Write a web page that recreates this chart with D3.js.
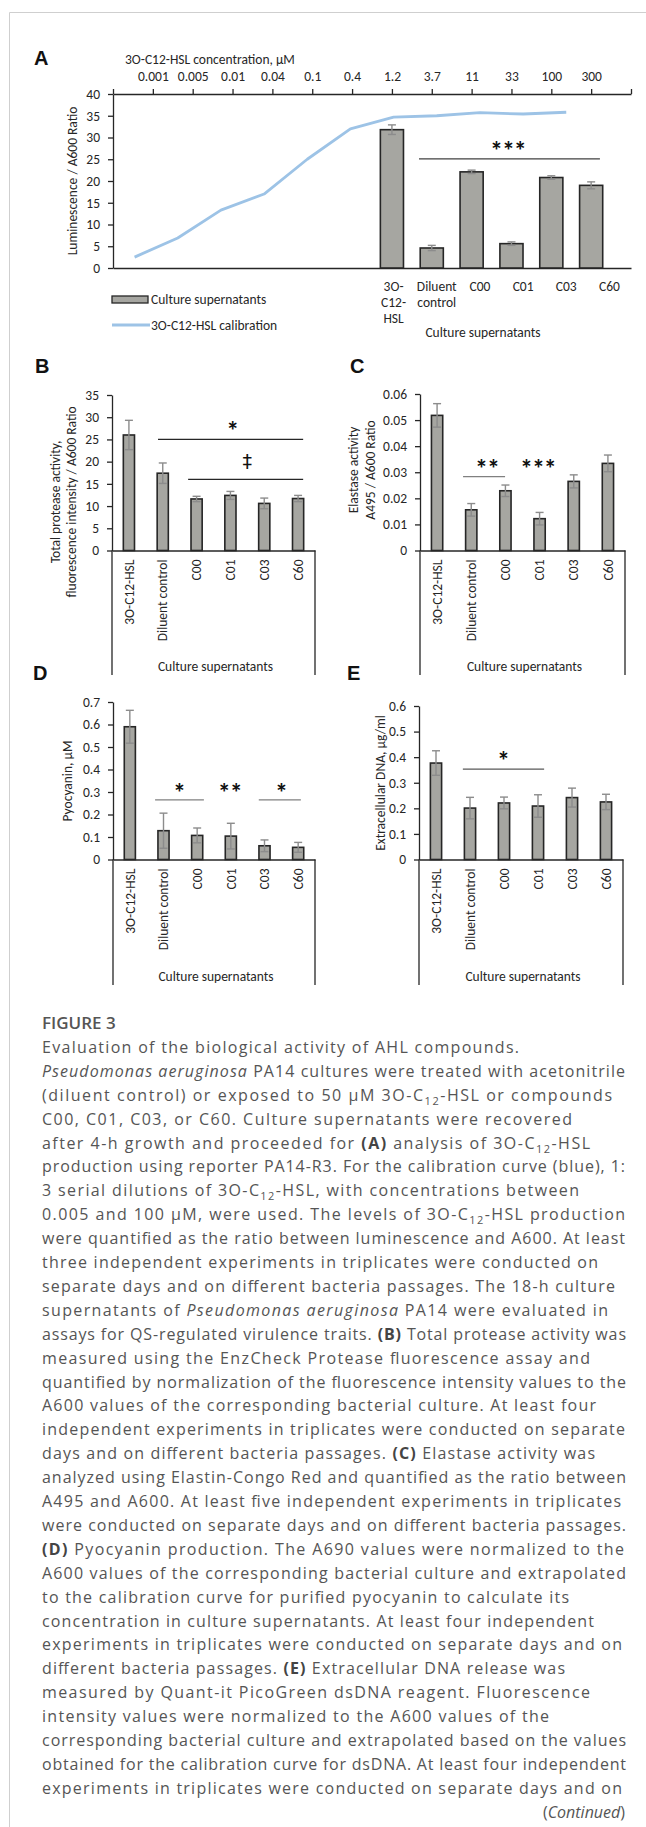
<!DOCTYPE html>
<html><head><meta charset="utf-8">
<script src="https://cdn.jsdelivr.net/npm/d3@7"></script>
<style>body{margin:0;background:#fff} svg{display:block}</style>
</head><body>
<svg id="c" width="646" height="1827"></svg>
<script>
// ---------- DATA ----------
const calibConc = ["0.001","0.005","0.01","0.04","0.1","0.4","1.2","3.7","11","33","100","300"];
const calibValues = [2.5, 6.9, 13.3, 17.0, 25.0, 32.0, 34.7, 35.0, 35.7, 35.4, 35.8];
const groups = ["3O-C12-HSL","Diluent control","C00","C01","C03","C60"];
const lumValues = [31.8, 4.6, 22.1, 5.6, 20.8, 19.0];
const lumErr = [1.1, 0.6, 0.4, 0.4, 0.4, 0.8];
const proteaseValues = [26.0, 17.4, 11.6, 12.4, 10.6, 11.7];
const proteaseErr = [3.3, 2.3, 0.6, 0.9, 1.2, 0.7];
const elastaseValues = [0.0518, 0.0156, 0.0229, 0.0122, 0.0265, 0.0334];
const elastaseErr = [0.0045, 0.0024, 0.0022, 0.0024, 0.0025, 0.0032];
const pyoValues = [0.59, 0.128, 0.107, 0.104, 0.061, 0.054];
const pyoErr = [0.073, 0.078, 0.033, 0.057, 0.026, 0.022];
const dnaValues = [0.377, 0.201, 0.221, 0.209, 0.242, 0.225];
const dnaErr = [0.048, 0.042, 0.023, 0.044, 0.037, 0.030];
const ticksA = [0, 40, 5], ticksB = [0, 35, 5], ticksC = [0, 0.06, 0.01], ticksD = [0, 0.7, 0.1], ticksE = [0, 0.6, 0.1];
// significance annotations: positions in category index / value units
const sigA = [{from:0.68, to:5.22, y:25.1, label:"***", lx:2.91, ly:28.3, color:"#404040"}];
const sigB = [{from:0.86, to:5.15, y:25, label:"*", lx:3.05, ly:28.2, color:"#262626"},
              {from:1.75, to:5.15, y:16, label:"\u2021", lx:3.5, ly:19.9, color:"#262626"}];
const sigC = [{from:0.76, to:1.99, y:0.0283, label:"**", lx:1.46, ly:0.0336, color:"#808080"},
              {label:"***", lx:2.95, ly:0.0336}];
const sigD = [{from:0.75, to:2.2, y:0.265, label:"*", lx:1.46, ly:0.323, color:"#808080"},
              {label:"**", lx:2.97, ly:0.323},
              {from:3.83, to:5.08, y:0.265, label:"*", lx:4.49, ly:0.323, color:"#808080"}];
const sigE = [{from:0.79, to:3.18, y:0.353, label:"*", lx:1.97, ly:0.408, color:"#595959"}];

// ---------- STYLE ----------
const FONT = "Carlito, Calibri, Lato, 'Open Sans', sans-serif";
const AX = "#262626";
const BAR = "#a6a6a1";
const ERR = "#8c8c8c";
const BLUE = "#9dc3e6";
const svg = d3.select("#c");

svg.append("path").attr("d","M646,12.5H9.5V1827").attr("fill","none").attr("stroke","#cfcfcf").attr("stroke-width",1);

function styleAxis(g){
  g.select(".domain").attr("stroke",AX).attr("stroke-width",1.3);
  g.selectAll(".tick line").attr("stroke",AX).attr("stroke-width",1.3);
  g.selectAll(".tick text").attr("fill",AX).attr("font-family",FONT).attr("font-size",13.5);
}
function panelLabel(t,x,y){
  svg.append("text").attr("x",x).attr("y",y).text(t)
    .attr("font-family","'Liberation Sans', Arial, sans-serif").attr("font-weight","bold").attr("font-size",20).attr("fill","#111");
}
const fmt = v => String(+v.toFixed(3));
function tickList(t){ return d3.range(0, Math.round((t[1]-t[0])/t[2])+1).map(k => +(t[0]+k*t[2]).toFixed(4)); }
function sigMarks(g, list, xPos, y, fs, defColor){
  list.forEach(s => {
    if (s.from !== undefined) g.append("line").attr("x1",xPos(s.from)).attr("x2",xPos(s.to))
      .attr("y1",y(s.y)).attr("y2",y(s.y)).attr("stroke",s.color||defColor).attr("stroke-width",1.3);
    const dag = s.label === "\u2021";
    g.append("text").attr("x",xPos(s.lx)).attr("y",y(s.ly) + (dag ? 6 : 0.57*fs)).attr("text-anchor","middle")
      .attr("font-family", dag ? "'DejaVu Sans', sans-serif" : FONT).attr("font-weight", dag ? "normal" : "bold")
      .attr("letter-spacing", dag ? 0 : -1)
      .attr("font-size", dag ? 19 : fs).attr("fill","#111").text(s.label);
  });
}
function errBars(g, xs, y, vals, errs, cap){
  vals.forEach((v,i)=>{
    const x = xs(i);
    g.append("line").attr("x1",x).attr("x2",x).attr("y1",y(v-errs[i])).attr("y2",y(v+errs[i])).attr("stroke",ERR).attr("stroke-width",1.4);
    [v-errs[i], v+errs[i]].forEach(e => g.append("line").attr("x1",x-cap).attr("x2",x+cap).attr("y1",y(e)).attr("y2",y(e)).attr("stroke",ERR).attr("stroke-width",1.4));
  });
}

// ---------- PANEL A ----------
(function(){
  const L=113, R=631, T=94, B=268;
  const y = d3.scaleLinear().domain([ticksA[0], ticksA[1]]).range([B,T]);
  const xTick = d3.scalePoint().domain(d3.range(calibConc.length+2)).range([L,R]);
  const xBand = d3.scaleBand().domain(d3.range(calibConc.length)).range([L,R]);
  const bw = xBand.bandwidth();
  const g = svg.append("g");
  panelLabel("A", 34, 65);
  g.append("text").attr("x",125).attr("y",64).attr("font-family",FONT).attr("font-size",13.5).attr("fill",AX)
    .text("3O-C12-HSL concentration,  \u03bcM");
  g.append("g").attr("transform",`translate(0,${T})`)
    .call(d3.axisTop(xTick).tickSize(5).tickSizeOuter(0).tickPadding(8).tickFormat(i => calibConc[i-1] || ""))
    .call(styleAxis);
  g.append("g").attr("transform",`translate(${L},0)`)
    .call(d3.axisLeft(y).tickValues(tickList(ticksA)).tickFormat(fmt).tickSize(5).tickSizeOuter(0).tickPadding(8))
    .call(styleAxis);
  g.append("g").attr("transform",`translate(0,${B})`)
    .call(d3.axisBottom(xTick).tickSize(0).tickSizeOuter(0).tickFormat(""))
    .call(styleAxis);
  g.append("text").attr("transform",`translate(72,${(T+B)/2}) rotate(-90)`).attr("text-anchor","middle").attr("dy","0.35em")
    .attr("font-family",FONT).attr("font-size",13.5).attr("fill",AX).text("Luminescence / A600 Ratio");
  // bars aligned with tick of first sample concentration
  const off = calibConc.indexOf("1.2") + 1;
  const barW = xTick.step()*0.58;
  const bx = v => L + xTick.step()*(off + v);
  g.selectAll("rect.bar").data(lumValues).join("rect").attr("class","bar")
    .attr("x",(d,i)=>bx(i)-barW/2).attr("width",barW)
    .attr("y",d=>y(d)).attr("height",d=>y(0)-y(d))
    .attr("fill",BAR).attr("stroke",AX).attr("stroke-width",1.6);
  errBars(g, bx, y, lumValues, lumErr, 4);
  // calibration line
  g.append("path").datum(calibValues)
    .attr("d", d3.line().x((d,i)=>xBand(i)+bw/2).y(d=>y(d)))
    .attr("fill","none").attr("stroke",BLUE).attr("stroke-width",2.8).attr("stroke-linejoin","round");
  sigMarks(g, sigA, bx, y, 26, "#404040");
  // category labels (on the band slots of the last six concentrations)
  const labOff = calibConc.length - groups.length;
  groups.forEach((name,i)=>{
    const lines = name.replace(/-/g,"-\n").split(/[\n ]/);
    const t = g.append("text").attr("text-anchor","middle").attr("font-family",FONT).attr("font-size",13.5).attr("fill",AX);
    lines.forEach((ln,k)=> t.append("tspan").attr("x",xBand(labOff+i)+bw/2).attr("y",291+k*16).text(ln));
  });
  g.append("text").attr("x",483).attr("y",337).attr("text-anchor","middle").attr("font-family",FONT).attr("font-size",13.5).attr("fill",AX).text("Culture supernatants");
  // legend
  g.append("rect").attr("x",112).attr("y",296).attr("width",36).attr("height",7).attr("fill",BAR).attr("stroke",AX).attr("stroke-width",1.3);
  g.append("text").attr("x",151).attr("y",303.5).attr("font-family",FONT).attr("font-size",13.5).attr("fill",AX).text("Culture supernatants");
  g.append("line").attr("x1",112).attr("x2",150).attr("y1",325).attr("y2",325).attr("stroke",BLUE).attr("stroke-width",2.8);
  g.append("text").attr("x",151).attr("y",329.5).attr("font-family",FONT).attr("font-size",13.5).attr("fill",AX).text("3O-C12-HSL calibration");
})();

// ---------- PANELS B-E ----------
function barPanel(c){
  const x = d3.scaleBand().domain(groups).range([c.L,c.R]);
  const y = d3.scaleLinear().domain([c.ticks[0], c.ticks[1]]).range([c.B,c.T]);
  const g = svg.append("g");
  panelLabel(c.label, c.lx, c.ly);
  g.append("g").attr("transform",`translate(${c.L},0)`)
    .call(d3.axisLeft(y).tickValues(tickList(c.ticks)).tickFormat(fmt).tickSize(5).tickSizeOuter(0).tickPadding(8))
    .call(styleAxis);
  const xa = g.append("g").attr("transform",`translate(0,${c.B})`)
    .call(d3.axisBottom(x).tickSize(0).tickSizeOuter(0))
    .call(styleAxis);
  xa.selectAll(".tick text").attr("y",0).attr("x",-9).attr("dy","0.35em")
    .attr("transform","rotate(-90)").style("text-anchor","end").attr("font-size",13.5);
  [c.L, c.R].forEach(xx => g.append("line").attr("x1",xx).attr("x2",xx).attr("y1",c.B).attr("y2",c.boxB).attr("stroke",AX).attr("stroke-width",1.3));
  g.append("text").attr("x",(c.L+c.R)/2+2).attr("y",c.boxB-4).attr("text-anchor","middle")
    .attr("font-family",FONT).attr("font-size",13.5).attr("fill",AX).text("Culture supernatants");
  c.title.forEach((t,k)=> g.append("text").attr("transform",`translate(${c.tx[k]},${c.ty}) rotate(-90)`)
    .attr("text-anchor","middle").attr("dy","0.35em").attr("font-family",FONT).attr("font-size",13.5).attr("fill",AX).text(t));
  const barW = x.step()*0.33;
  const cx = i => x(groups[i]) + x.bandwidth()/2;
  g.selectAll("rect.bar").data(c.values).join("rect").attr("class","bar")
    .attr("x",(d,i)=>cx(i)-barW/2).attr("width",barW)
    .attr("y",d=>y(d)).attr("height",d=>y(0)-y(d))
    .attr("fill",BAR).attr("stroke",AX).attr("stroke-width",1.6);
  errBars(g, cx, y, c.values, c.errs, 4);
  sigMarks(g, c.sig, v => c.L + x.step()*(v+0.5), y, 26, "#808080");
}
barPanel({label:"B", lx:35, ly:373, L:112, R:315, T:395, B:550.5, boxB:675, ticks:ticksB, values:proteaseValues, errs:proteaseErr,
  title:["Total protease activity,","fluorescence intensity / A600 Ratio"], tx:[55,71], ty:502, sig:sigB});
barPanel({label:"C", lx:350, ly:373, L:420, R:625, T:394, B:550.5, boxB:675, ticks:ticksC, values:elastaseValues, errs:elastaseErr,
  title:["Elastase activity","A495 / A600 Ratio"], tx:[353,370], ty:470, sig:sigC});
barPanel({label:"D", lx:33, ly:680, L:113, R:315, T:702, B:859.5, boxB:985, ticks:ticksD, values:pyoValues, errs:pyoErr,
  title:["Pyocyanin, \u03bcM"], tx:[67], ty:781, sig:sigD});
barPanel({label:"E", lx:347, ly:680, L:419, R:623, T:706, B:859.5, boxB:985, ticks:ticksE, values:dnaValues, errs:dnaErr,
  title:["Extracellular DNA, \u03bcg/ml"], tx:[380], ty:783, sig:sigE});

// ---------- CAPTION ----------
const captionLines = [
 ["Evaluation of the biological activity of AHL compounds.",519],
 ["*Pseudomonas aeruginosa* PA14 cultures were treated with acetonitrile",625],
 ["(diluent control) or exposed to 50 \u03bcM 3O-C_12_-HSL or compounds",612],
 ["C00, C01, C03, or C60. Culture supernatants were recovered",572],
 ["after 4-h growth and proceeded for **(A)** analysis of 3O-C_12_-HSL",590],
 ["production using reporter PA14-R3. For the calibration curve (blue), 1:",625],
 ["3 serial dilutions of 3O-C_12_-HSL, with concentrations between",579],
 ["0.005 and 100 \u03bcM, were used. The levels of 3O-C_12_-HSL production",625],
 ["were quantified as the ratio between luminescence and A600. At least",625],
 ["three independent experiments in triplicates were conducted on",598],
 ["separate days and on different bacteria passages. The 18-h culture",615],
 ["supernatants of *Pseudomonas aeruginosa* PA14 were evaluated in",608],
 ["assays for QS-regulated virulence traits. **(B)** Total protease activity was",626],
 ["measured using the EnzCheck Protease fluorescence assay and",590],
 ["quantified by normalization of the fluorescence intensity values to the",626],
 ["A600 values of the corresponding bacterial culture. At least four",596],
 ["independent experiments in triplicates were conducted on separate",625],
 ["days and on different bacteria passages. **(C)** Elastase activity was",595],
 ["analyzed using Elastin-Congo Red and quantified as the ratio between",626],
 ["A495 and A600. At least five independent experiments in triplicates",621],
 ["were conducted on separate days and on different bacteria passages.",626],
 ["**(D)** Pyocyanin production. The A690 values were normalized to the",624],
 ["A600 values of the corresponding bacterial culture and extrapolated",626],
 ["to the calibration curve for purified pyocyanin to calculate its",569],
 ["concentration in culture supernatants. At least four independent",594],
 ["experiments in triplicates were conducted on separate days and on",622],
 ["different bacteria passages. **(E)** Extracellular DNA release was",565],
 ["measured by Quant-it PicoGreen dsDNA reagent. Fluorescence",590],
 ["intensity values were normalized to the A600 values of the",549],
 ["corresponding bacterial culture and extrapolated based on the values",626],
 ["obtained for the calibration curve for dsDNA. At least four independent",626],
 ["experiments in triplicates were conducted on separate days and on",622]
];
const CX = 42, CY0 = 1023, LH = 23.9;
const cap = svg.append("g").attr("font-family","'Open Sans', sans-serif").attr("fill","#555");
cap.append("text").attr("x",CX).attr("y",CY0+6).attr("font-size",17).attr("font-weight",600).attr("fill","#555").text("FIGURE 3");
captionLines.forEach(([s,end],k)=>{
  const t = cap.append("text").attr("x",CX).attr("y",CY0+(k+1)*LH+6).attr("font-size",16)
    .attr("textLength", end-CX).attr("lengthAdjust","spacing");
  const toks = s.split(/(\*\*[^*]+\*\*|\*[^*]+\*|_\d+_)/).filter(d=>d.length);
  let pendingUp = false;
  toks.forEach(tok=>{
    const ts = t.append("tspan");
    if (pendingUp){ ts.attr("dy",-4); pendingUp=false; }
    if (tok.startsWith("**")) ts.attr("font-weight",700).attr("fill","#444").text(tok.slice(2,-2));
    else if (tok.startsWith("*")) ts.attr("font-style","italic").text(tok.slice(1,-1));
    else if (tok.startsWith("_")) { ts.attr("font-size",11).attr("dy",4).text(tok.slice(1,-1)); pendingUp=true; }
    else ts.text(tok);
  });
});
const cont = cap.append("text").attr("x",625).attr("y",CY0+33*LH+6).attr("font-size",16).attr("text-anchor","end");
cont.append("tspan").text("(");
cont.append("tspan").attr("font-style","italic").text("Continued");
cont.append("tspan").text(")");
</script>
</body></html>
